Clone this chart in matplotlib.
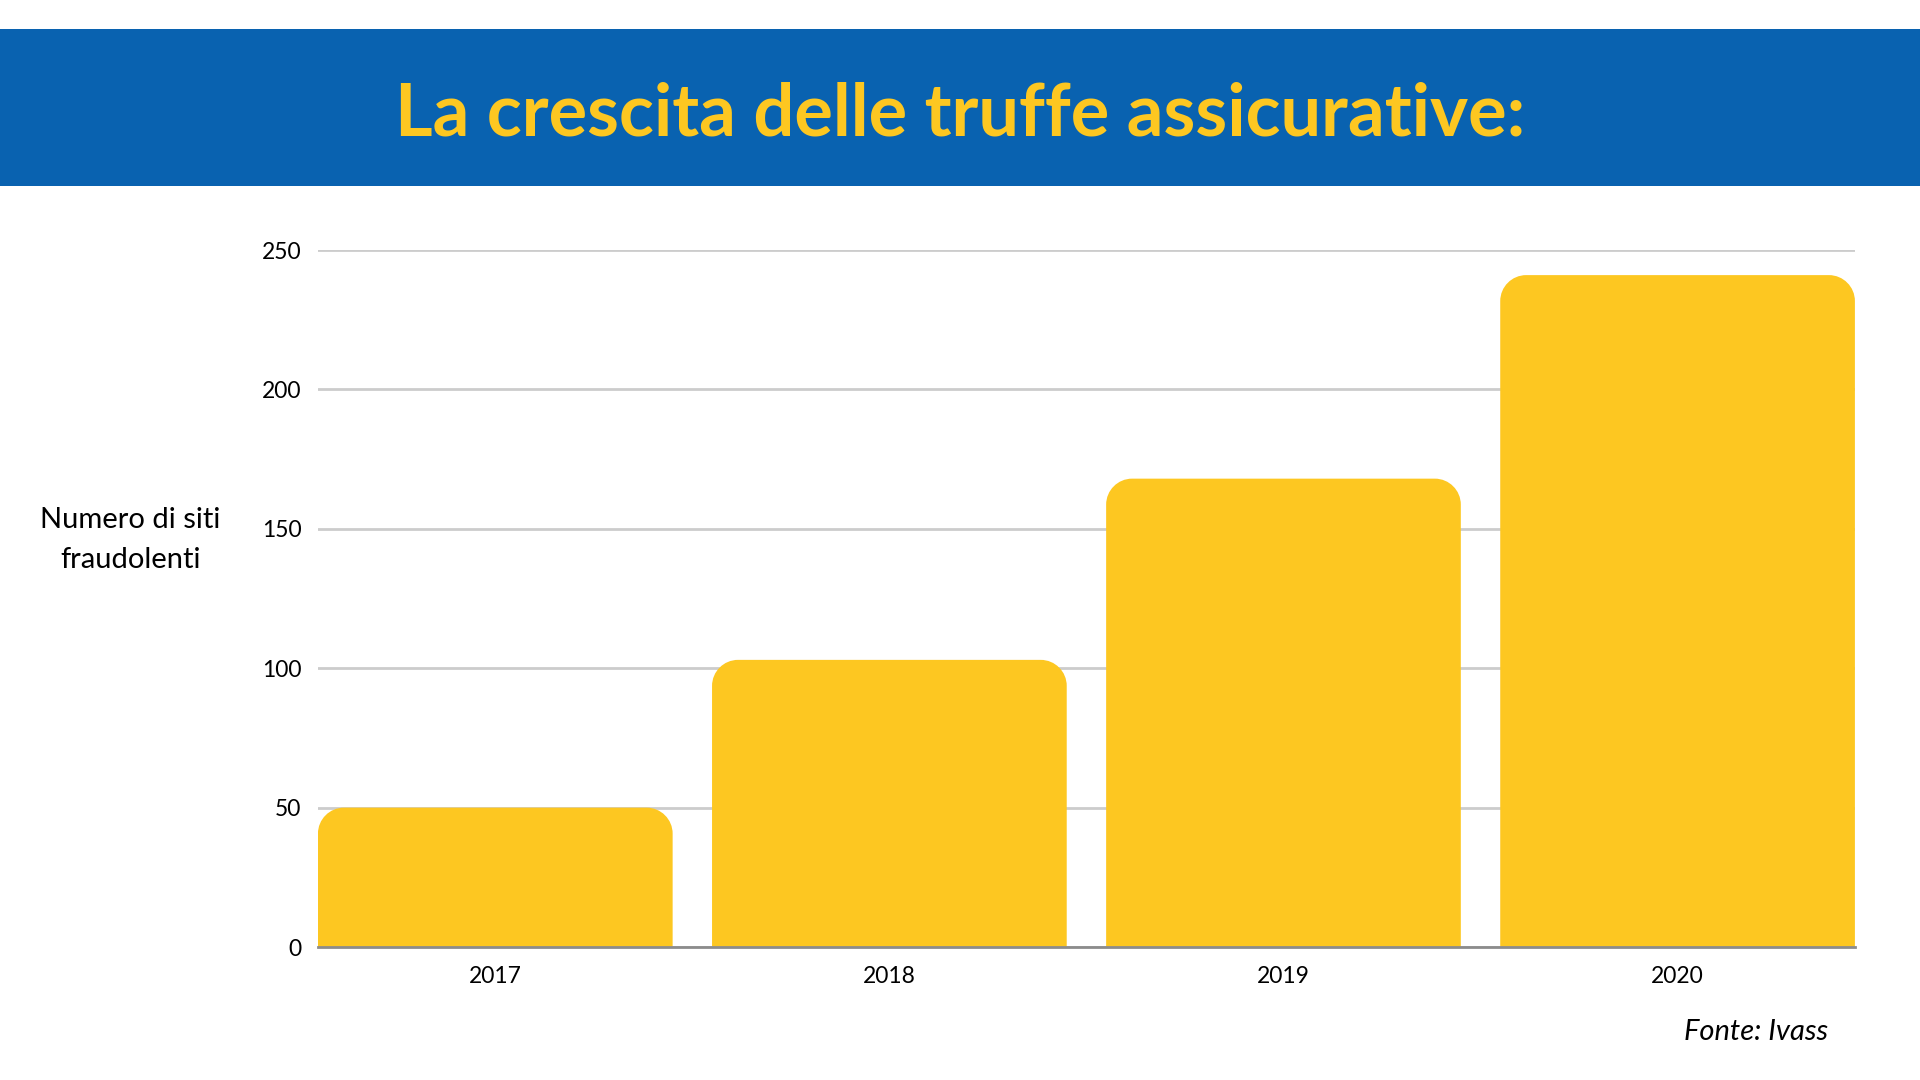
import matplotlib
matplotlib.use("Agg")
import matplotlib.pyplot as plt
from matplotlib.path import Path
from matplotlib.patches import PathPatch, Rectangle

# data
years = ["2017", "2018", "2019", "2020"]
sites = [50, 103, 168, 241]
y_ticks = [0, 50, 100, 150, 200, 250]

title = "La crescita delle truffe assicurative:"
y_label = "Numero di siti\nfraudolenti"
source = "Fonte: Ivass"

BLUE = "#0962B0"
YELLOW = "#FDC721"

plt.rcParams["font.family"] = ["Lato", "DejaVu Sans"]

fig = plt.figure(figsize=(19.2, 10.8), dpi=100)
fig.patch.set_facecolor("white")

# blue title band
fig.patches.append(Rectangle((0, 0.8278), 1, 0.1453, transform=fig.transFigure,
                             facecolor=BLUE, edgecolor="none", zorder=0))
fig.text(0.5, 0.8935, title, ha="center", va="center", color=YELLOW,
         fontsize=52, fontweight="bold")

ax = fig.add_axes([0.1656, 0.1231, 0.8005, 0.6454])
x = list(range(len(years)))
bars = ax.bar(x, sites, width=0.9, color=YELLOW, zorder=2)
ax.set_xlim(-0.45, len(years) - 0.55)
ax.set_ylim(0, 250)


def rounded_top(rect, rx, ry):
    x0 = rect.get_x()
    x1 = x0 + rect.get_width()
    h = rect.get_height()
    k = 0.5523
    verts = [
        (x0, 0), (x0, h - ry),
        (x0, h - ry + k * ry), (x0 + rx - k * rx, h), (x0 + rx, h),
        (x1 - rx, h),
        (x1 - rx + k * rx, h), (x1, h - ry + k * ry), (x1, h - ry),
        (x1, 0), (x0, 0),
    ]
    codes = [Path.MOVETO, Path.LINETO,
             Path.CURVE4, Path.CURVE4, Path.CURVE4,
             Path.LINETO,
             Path.CURVE4, Path.CURVE4, Path.CURVE4,
             Path.LINETO, Path.CLOSEPOLY]
    return Path(verts, codes)


# corner radius in pixels, converted to data units on each axis
r_px = 26
bbox = ax.get_window_extent()
xl, yl = ax.get_xlim(), ax.get_ylim()
rx = r_px * (xl[1] - xl[0]) / bbox.width
ry = r_px * (yl[1] - yl[0]) / bbox.height
for b in bars:
    b.set_visible(False)
    ax.add_patch(PathPatch(rounded_top(b, rx, ry), facecolor=YELLOW,
                           edgecolor="none", zorder=2))

ax.set_yticks(y_ticks)
ax.set_xticks(x)
ax.set_xticklabels(years)
ax.yaxis.grid(True, color="#cccccc", linewidth=2, zorder=0)
ax.set_axisbelow(True)
for s in ["top", "right", "left"]:
    ax.spines[s].set_visible(False)
ax.spines["bottom"].set_color("#8c8c8c")
ax.spines["bottom"].set_linewidth(2)
ax.spines["bottom"].set_zorder(3)
ax.tick_params(axis="both", length=0, labelsize=16.5, colors="black")
ax.tick_params(axis="y", pad=12)
ax.tick_params(axis="x", pad=14)

fig.text(0.068, 0.5, y_label, ha="center", va="center", fontsize=21,
         linespacing=1.7)
fig.text(0.952, 0.044, source, ha="right", va="center", fontsize=21,
         style="italic")

fig.savefig("out.png", dpi=100)
